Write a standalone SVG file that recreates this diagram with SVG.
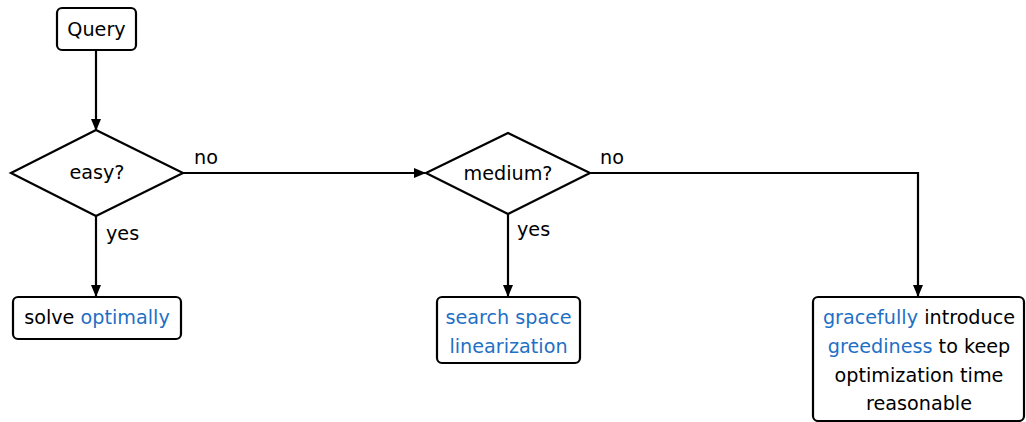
<svg xmlns="http://www.w3.org/2000/svg" width="1026" height="422" viewBox="0 0 1026 422">
<style>
.box{fill:#fff;stroke:#000;stroke-width:2.2}
.t{font-family:"DejaVu Sans",sans-serif;font-size:19.2px;fill:#000}
.b{fill:#1f6fc5}
.c{fill:none;stroke:#000;stroke-width:2.2}
</style>
<defs>
<marker id="ah" markerWidth="12" markerHeight="12" refX="11" refY="5.5" orient="auto" markerUnits="userSpaceOnUse">
<path d="M0,0.5 L12,5.5 L0,10.5 Z" fill="#000"/>
</marker>
</defs>
<g id="connectors">
<path class="c" d="M96,51 V130" marker-end="url(#ah)"/>
<path class="c" d="M96,216 V296" marker-end="url(#ah)"/>
<path class="c" d="M183,173 H425" marker-end="url(#ah)"/>
<path class="c" d="M508,214 V296" marker-end="url(#ah)"/>
<path class="c" d="M590,173 H918 V296" marker-end="url(#ah)"/>
<text class="t" x="194" y="164">no</text>
<text class="t" x="600" y="164">no</text>
<text class="t" x="106" y="240">yes</text>
<text class="t" x="517" y="236">yes</text>
</g>
<g id="query">
<rect class="box" x="57" y="8" width="79" height="42" rx="5"/>
<text class="t" x="96.5" y="36" text-anchor="middle">Query</text>
</g>
<g id="easy">
<polygon class="box" points="11,173 96,130 183,173 96,216"/>
<text class="t" x="97" y="179" text-anchor="middle">easy?</text>
</g>
<g id="medium">
<polygon class="box" points="426,173 508,133 590,173 508,214"/>
<text class="t" x="508" y="180" text-anchor="middle">medium?</text>
</g>
<g id="solve">
<rect class="box" x="13" y="297" width="168" height="42" rx="5"/>
<text class="t" x="97" y="324" text-anchor="middle">solve <tspan class="b">optimally</tspan></text>
</g>
<g id="search">
<rect class="box" x="437" y="297" width="143" height="66" rx="5"/>
<text class="t b" x="508.5" y="324" text-anchor="middle">search space</text>
<text class="t b" x="508.5" y="353" text-anchor="middle">linearization</text>
</g>
<g id="graceful">
<rect class="box" x="813" y="297" width="211" height="124" rx="5"/>
<text class="t" x="919" y="324" text-anchor="middle"><tspan class="b">gracefully</tspan> introduce</text>
<text class="t" x="919" y="353" text-anchor="middle"><tspan class="b">greediness</tspan> to keep</text>
<text class="t" x="919" y="382" text-anchor="middle">optimization time</text>
<text class="t" x="919" y="410" text-anchor="middle">reasonable</text>
</g>
</svg>
